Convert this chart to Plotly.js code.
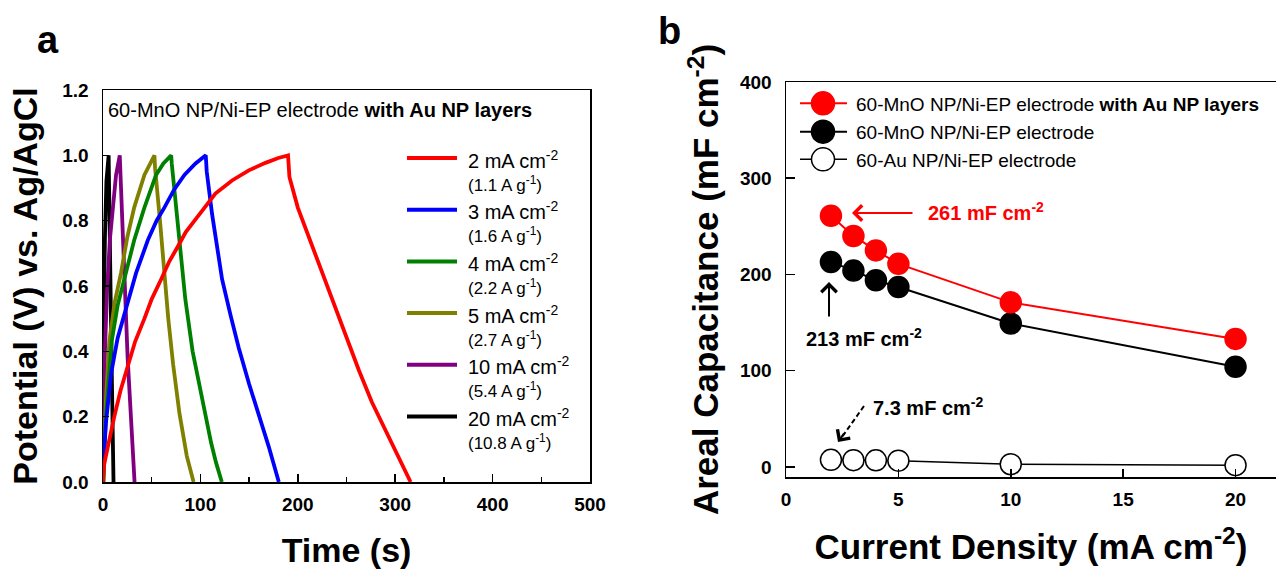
<!DOCTYPE html>
<html>
<head>
<meta charset="utf-8">
<script src="https://cdn.plot.ly/plotly-3.0.1.min.js"></script>
<style>
html, body { margin: 0; padding: 0; background: #ffffff; }
#chart { width: 1277px; height: 570px; }
</style>
</head>
<body>
<div id="chart"></div>
<script>
// ---------------- Panel a: galvanostatic charge/discharge curves ----------------
const gcdCurrentLabels = ['2 mA cm<sup>-2</sup>', '3 mA cm<sup>-2</sup>', '4 mA cm<sup>-2</sup>',
                          '5 mA cm<sup>-2</sup>', '10 mA cm<sup>-2</sup>', '20 mA cm<sup>-2</sup>'];
const gcdSpecificLabels = ['(1.1 A g<sup>-1</sup>)', '(1.6 A g<sup>-1</sup>)', '(2.2 A g<sup>-1</sup>)',
                           '(2.7 A g<sup>-1</sup>)', '(5.4 A g<sup>-1</sup>)', '(10.8 A g<sup>-1</sup>)'];

const time2mA = [0, 1, 3, 7, 11.6, 18, 25, 33, 42.5, 50, 59.6, 68, 76.7, 85, 94, 104, 115.4, 132.5, 149.7, 166.8, 180, 190,
                 191.4, 200, 211.3, 223, 235.3, 249, 262.7, 276, 290.1, 303.8, 315.8];
const pot2mA  = [0, 0.05, 0.08, 0.14, 0.2, 0.28, 0.35, 0.43, 0.5, 0.56, 0.62, 0.675, 0.72, 0.765, 0.8, 0.84, 0.883, 0.923, 0.954, 0.977, 0.992, 1.0,
                 0.934, 0.84, 0.75, 0.66, 0.566, 0.45, 0.342, 0.245, 0.158, 0.077, 0];

const time3mA = [0, 0.5, 3, 8.2, 15, 23.6, 34, 46, 55, 63, 73, 83.6, 95, 105.5,
                 106.5, 112, 122.3, 131, 139.4, 150, 159.9, 170, 180.5];
const pot3mA  = [0, 0.06, 0.18, 0.33, 0.44, 0.53, 0.64, 0.74, 0.8, 0.84, 0.895, 0.94, 0.975, 1.0,
                 0.95, 0.82, 0.62, 0.51, 0.41, 0.3, 0.21, 0.11, 0];

const time4mA = [0.5, 1, 3, 8.9, 15, 23.6, 32, 42.5, 54.5, 62, 70,
                 70.6, 77, 84.5, 92, 100, 111, 116, 122];
const pot4mA  = [0, 0.07, 0.2, 0.43, 0.54, 0.636, 0.74, 0.84, 0.94, 0.975, 1.0,
                 0.975, 0.77, 0.56, 0.4, 0.28, 0.12, 0.06, 0];

const time5mA = [0.3, 1, 3, 6.5, 12, 18.5, 25, 32, 42.5, 52.8,
                 53.5, 58.5, 63, 67, 72, 78.5, 86, 93];
const pot5mA  = [0, 0.08, 0.25, 0.43, 0.55, 0.64, 0.75, 0.84, 0.94, 1.0,
                 0.96, 0.8, 0.64, 0.5, 0.36, 0.21, 0.08, 0];

const time10mA = [0, 0.3, 2, 4.1, 7, 9.9, 13.4, 17.2,
                  17.8, 18.8, 21.9, 25.3, 28.8, 32.4];
const pot10mA  = [0, 0.17, 0.4, 0.58, 0.74, 0.84, 0.94, 1.0,
                  0.96, 0.89, 0.64, 0.38, 0.18, 0];

const time20mA = [0, 0.3, 1, 2, 3.5, 5.8,
                  6.3, 7.7, 9.2, 10.8];
const pot20mA  = [0, 0.33, 0.55, 0.75, 0.92, 1.0,
                  0.93, 0.6, 0.3, 0];

// ---------------- Panel b: areal capacitance vs current density ----------------
const currentDensity = [2, 3, 4, 5, 10, 20];
const capMnOAuLayers = [261, 240, 225, 211, 171, 133];
const capMnO         = [213, 204, 194, 187, 149, 104];
const capAu          = [7.3, 7.0, 6.8, 6.5, 2.8, 1.8];
const seriesNamesB = ['60-MnO NP/Ni-EP electrode <b>with Au NP layers</b>',
                      '60-MnO NP/Ni-EP electrode',
                      '60-Au NP/Ni-EP electrode'];
const calloutTexts = ['261 mF cm<sup>-2</sup>', '213 mF cm<sup>-2</sup>', '7.3 mF cm<sup>-2</sup>'];

// ---------------- Layout geometry (pixels) ----------------
const W = 1277, H = 570;
const M = { l: 103, r: 1, t: 82, b: 88 };
const PW = W - M.l - M.r, PH = H - M.t - M.b;
const fx = px => (px - M.l) / PW;
const fy = py => (H - M.b - py) / PH;

const PA = { x0: 103, x1: 590, y0: 90, y1: 482 };
const PB = { x0: 786, x1: 1276, y0: 82, y1: 477 };

const FAM = 'Liberation Sans, Arial, Helvetica, sans-serif';
const tickFont = { family: FAM, size: 19, color: '#000', weight: 'bold' };
const titleFont = { family: FAM, size: 34, color: '#000', weight: 'bold' };

const gcdColors = ['#ff0000', '#0000ff', '#008000', '#808000', '#800080', '#000000'];
const gcdTimes = [time2mA, time3mA, time4mA, time5mA, time10mA, time20mA];
const gcdPots = [pot2mA, pot3mA, pot4mA, pot5mA, pot10mA, pot20mA];

const traces = [];
for (let i = gcdTimes.length - 1; i >= 0; i--) {
  traces.push({
    type: 'scatter', mode: 'lines', x: gcdTimes[i], y: gcdPots[i],
    xaxis: 'x', yaxis: 'y', showlegend: false, hoverinfo: 'skip',
    line: { color: gcdColors[i], width: 3.8 }
  });
}

const bSeries = [
  { y: capAu, fill: '#ffffff', line: '#000000', lw: 1.5 },
  { y: capMnO, fill: '#000000', line: '#000000', lw: 2 },
  { y: capMnOAuLayers, fill: '#ff0000', line: '#ff0000', lw: 2 }
];
bSeries.forEach(s => {
  traces.push({
    type: 'scatter', mode: 'lines+markers', x: currentDensity, y: s.y,
    xaxis: 'x2', yaxis: 'y2', showlegend: false, hoverinfo: 'skip', cliponaxis: false,
    line: { color: s.line, width: s.lw },
    marker: { size: 21, color: s.fill, line: { color: s.line, width: 1.5 } }
  });
});

const annotations = [];
const shapes = [];

// panel letters
annotations.push({ xref: 'paper', yref: 'paper', x: fx(48), y: fy(40), text: '<b>a</b>', showarrow: false,
  font: { family: FAM, size: 38, color: '#000' }, xanchor: 'center', yanchor: 'middle' });
annotations.push({ xref: 'paper', yref: 'paper', x: fx(669), y: fy(31), text: '<b>b</b>', showarrow: false,
  font: { family: FAM, size: 38, color: '#000' }, xanchor: 'center', yanchor: 'middle' });

// panel a header text
annotations.push({ xref: 'paper', yref: 'paper', x: fx(106), y: fy(110),
  text: '60-MnO NP/Ni-EP electrode <b>with Au NP layers</b>', showarrow: false,
  font: { family: FAM, size: 20, color: '#000' }, xanchor: 'left', yanchor: 'middle' });

// panel a legend
const legA = { lineX0: 407, lineX1: 457, textX: 466, rowY0: 158, rowStep: 51.7, subDy: 25.5 };
gcdCurrentLabels.forEach((lab, i) => {
  const ry = legA.rowY0 + i * legA.rowStep;
  shapes.push({ type: 'line', xref: 'paper', yref: 'paper', x0: fx(legA.lineX0), x1: fx(legA.lineX1),
    y0: fy(ry), y1: fy(ry), line: { color: gcdColors[i], width: 4 } });
  annotations.push({ xref: 'paper', yref: 'paper', x: fx(legA.textX), y: fy(ry + 1), text: lab, showarrow: false,
    font: { family: FAM, size: 20, color: '#000' }, xanchor: 'left', yanchor: 'middle' });
  annotations.push({ xref: 'paper', yref: 'paper', x: fx(legA.textX), y: fy(ry + legA.subDy), text: gcdSpecificLabels[i], showarrow: false,
    font: { family: FAM, size: 17, color: '#000' }, xanchor: 'left', yanchor: 'middle' });
});

// panel b legend
const legB = { lineX0: 800, lineX1: 847, markX: 823, textX: 854, rows: [103.3, 131.7, 159.3], r: 11.5 };
const legStyles = [
  { fill: '#ff0000', line: '#ff0000', lw: 2 },
  { fill: '#000000', line: '#000000', lw: 2 },
  { fill: '#ffffff', line: '#000000', lw: 1.5 }
];
seriesNamesB.forEach((name, i) => {
  const ry = legB.rows[i];
  const st = legStyles[i];
  shapes.push({ type: 'line', xref: 'paper', yref: 'paper', x0: fx(legB.lineX0), x1: fx(legB.lineX1),
    y0: fy(ry), y1: fy(ry), line: { color: st.line, width: st.lw } });
  shapes.push({ type: 'circle', xref: 'paper', yref: 'paper', xsizemode: 'pixel', ysizemode: 'pixel',
    xanchor: fx(legB.markX), yanchor: fy(ry), x0: -legB.r, x1: legB.r, y0: -legB.r, y1: legB.r,
    fillcolor: st.fill, line: { color: st.line, width: 1.5 } });
  annotations.push({ xref: 'paper', yref: 'paper', x: fx(legB.textX), y: fy(ry + 1), text: name, showarrow: false,
    font: { family: FAM, size: 19, color: '#000' }, xanchor: 'left', yanchor: 'middle' });
});

// panel b callouts
annotations.push({ xref: 'paper', yref: 'paper', x: fx(926), y: fy(212), text: '<b>' + calloutTexts[0] + '</b>', showarrow: false,
  font: { family: FAM, size: 20, color: '#ff0000' }, xanchor: 'left', yanchor: 'middle' });
annotations.push({ xref: 'paper', yref: 'paper', x: fx(852), y: fy(213), ax: 62, ay: 0, text: '', showarrow: true,
  arrowhead: 4, arrowsize: 1.5, arrowwidth: 2, arrowcolor: '#ff0000' });

annotations.push({ xref: 'paper', yref: 'paper', x: fx(804), y: fy(337), text: '<b>' + calloutTexts[1] + '</b>', showarrow: false,
  font: { family: FAM, size: 20, color: '#000' }, xanchor: 'left', yanchor: 'middle' });
annotations.push({ xref: 'paper', yref: 'paper', x: fx(829), y: fy(282), ax: 0, ay: 36, text: '', showarrow: true,
  arrowhead: 4, arrowsize: 1.5, arrowwidth: 2, arrowcolor: '#000' });

annotations.push({ xref: 'paper', yref: 'paper', x: fx(871), y: fy(406), text: '<b>' + calloutTexts[2] + '</b>', showarrow: false,
  font: { family: FAM, size: 20, color: '#000' }, xanchor: 'left', yanchor: 'middle' });
shapes.push({ type: 'line', xref: 'paper', yref: 'paper', x0: fx(864), y0: fy(406), x1: fx(842), y1: fy(437),
  line: { color: '#000', width: 2, dash: '5px,3px' } });
annotations.push({ xref: 'paper', yref: 'paper', x: fx(838), y: fy(442), ax: 7, ay: -10, text: '', showarrow: true,
  arrowhead: 4, arrowsize: 1.5, arrowwidth: 2, arrowcolor: '#000' });

const baseAxis = {
  showline: true, linecolor: '#000', linewidth: 1.5, showgrid: false, zeroline: false,
  ticks: 'inside', tickcolor: '#000', tickwidth: 1.5, tickfont: tickFont, automargin: false
};

const layout = {
  width: W, height: H,
  margin: M,
  paper_bgcolor: '#ffffff', plot_bgcolor: '#ffffff',
  showlegend: false,
  xaxis: Object.assign({}, baseAxis, {
    domain: [fx(PA.x0), fx(PA.x1)], anchor: 'y', range: [0, 500], tick0: 0, dtick: 100, ticklen: 8,
    mirror: true, ticklabelstandoff: 5,
    minor: { dtick: 50, ticks: 'inside', ticklen: 5, tickwidth: 1.5, tickcolor: '#000', showgrid: false },
    title: { text: 'Time (s)', font: titleFont, standoff: 24 }
  }),
  yaxis: Object.assign({}, baseAxis, {
    domain: [fy(PA.y1), fy(PA.y0)], anchor: 'x', range: [0, 1.2], tick0: 0, dtick: 0.2, tickformat: '.1f', ticklen: 6,
    mirror: true, ticklabelstandoff: 9,
    title: { text: 'Potential (V) vs. Ag/AgCl', font: titleFont, standoff: 14 }
  }),
  xaxis2: Object.assign({}, baseAxis, {
    domain: [fx(PB.x0), fx(PB.x1)], anchor: 'y2', range: [0, 21.8], tick0: 0, dtick: 5, ticklen: 8,
    mirror: true, ticklabelstandoff: 5,
    title: { text: 'Current Density (mA cm<sup>-2</sup>)', font: Object.assign({}, titleFont, { size: 35 }), standoff: 25 }
  }),
  yaxis2: Object.assign({}, baseAxis, {
    domain: [fy(PB.y1), fy(PB.y0)], anchor: 'x2', range: [-10.5, 400], tick0: 0, dtick: 100, ticklen: 9,
    mirror: false, ticklabelstandoff: 9,
    title: { text: 'Areal Capacitance (mF cm<sup>-2</sup>)', font: Object.assign({}, titleFont, { size: 35 }), standoff: 10 }
  }),
  annotations: annotations,
  shapes: shapes
};

Plotly.newPlot('chart', traces, layout, { staticPlot: true, displayModeBar: false });
</script>
</body>
</html>
